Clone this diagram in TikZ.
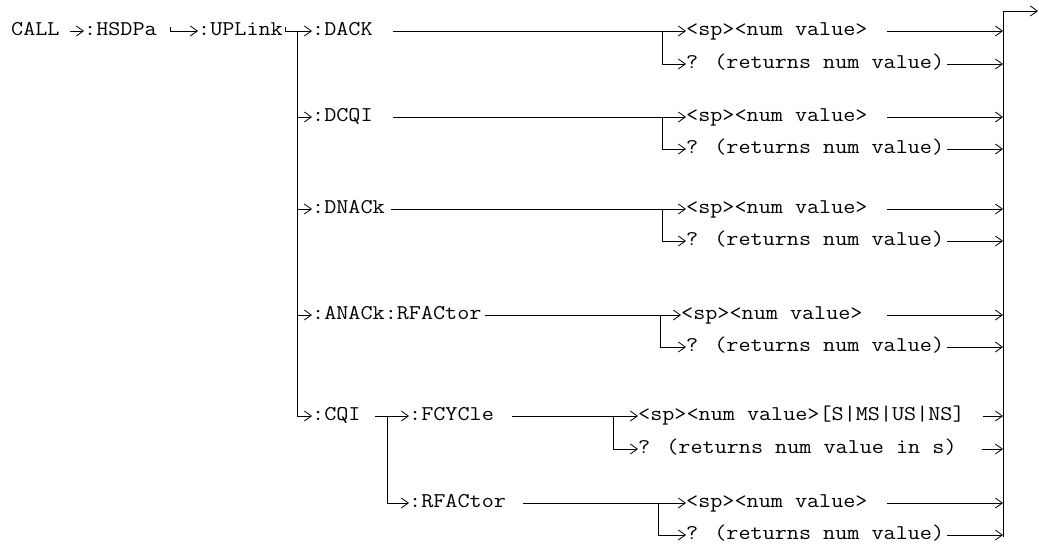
\documentclass[tikz,border=0pt]{standalone}
\usepackage{graphicx}
\usetikzlibrary{arrows.meta}
\newcommand\wtxt[1]{\scalebox{1.118}[1]{#1}}
\begin{document}
\begin{tikzpicture}[x=1pt,y=-1pt,
  lbl/.style={anchor=west, inner sep=0pt, font=\ttfamily\fontsize{21}{24}\selectfont, text height=12pt, text depth=3pt},
  conn/.style={line width=0.8pt},
  arr/.style={conn, -{Straight Barb[length=7pt,width=10pt]}}
]
\useasboundingbox (0,0) rectangle (1039,550);
% command path
\node[lbl] (call) at (11,31) {\wtxt{CALL}};
\node[lbl] (hsdpa) at (84,31) {\wtxt{:HSDPa}};
\node[lbl] (uplink) at (198,31) {\wtxt{:UPLink}};
\node[lbl] (dack) at (312,31) {\wtxt{:DACK}};
\node[lbl] (dcqi) at (312,117) {\wtxt{:DCQI}};
\node[lbl] (dnack) at (312,209) {\wtxt{:DNACk}};
\node[lbl] (anack) at (312,315) {\wtxt{:ANACk:RFACtor}};
\node[lbl] (cqi) at (312,416) {\wtxt{:CQI}};
\node[lbl] (fcycle) at (409,416) {\wtxt{:FCYCle}};
\node[lbl] (rfactor) at (409,503) {\wtxt{:RFACtor}};
% values
\node[lbl] (v1) at (686,31) {\wtxt{<sp><num value>}};
\node[lbl] (q1) at (686,64) {\wtxt{? (returns num value)}};
\node[lbl] (v2) at (686,117) {\wtxt{<sp><num value>}};
\node[lbl] (q2) at (686,149) {\wtxt{? (returns num value)}};
\node[lbl] (v3) at (686,209) {\wtxt{<sp><num value>}};
\node[lbl] (q3) at (686,241) {\wtxt{? (returns num value)}};
\node[lbl] (v4) at (681,315) {\wtxt{<sp><num value>}};
\node[lbl] (q4) at (686,347) {\wtxt{? (returns num value)}};
\node[lbl] (v5) at (638,416) {\wtxt{<sp><num value>[S|MS|US|NS]}};
\node[lbl] (q5) at (638,449) {\wtxt{? (returns num value in s)}};
\node[lbl] (v6) at (686,503) {\wtxt{<sp><num value>}};
\node[lbl] (q6) at (686,535) {\wtxt{? (returns num value)}};
% coordinates
\coordinate (c0) at (70,31);
\coordinate (h0) at (170,27);
\coordinate (h1) at (285,27);
\coordinate (tr) at (297,31);
\coordinate (s1) at (393,31);
\coordinate (s2) at (393,117);
\coordinate (s3) at (391,209);
\coordinate (s4) at (485,315);
\coordinate (s5) at (375,416);
\coordinate (tr2) at (387,416);
\coordinate (s6) at (512,416);
\coordinate (s7) at (523,503);
\coordinate (j1) at (662,31);
\coordinate (j2) at (662,117);
\coordinate (j3) at (662,209);
\coordinate (j4) at (660,315);
\coordinate (j5) at (613,416);
\coordinate (j6) at (658,503);
\coordinate (bt) at (1003,11);
\coordinate (bb) at (1003,537);
\coordinate (out) at (1038,11);
% left connectors
\draw[arr] (c0) -- (hsdpa.west);
\draw[arr] (h0) |- (uplink.west);
\draw[arr] (h1) |- (dack.west);
\draw[arr] (tr) |- (cqi.west);
\draw[arr] (tr |- dcqi.west) -- (dcqi.west);
\draw[arr] (tr |- dnack.west) -- (dnack.west);
\draw[arr] (tr |- anack.west) -- (anack.west);
\draw[arr] (s5) -- (fcycle.west);
\draw[arr] (tr2) |- (rfactor.west);
% middle connectors
\draw[arr] (s1) -- (v1.west);
\draw[arr] (j1) |- (q1.west);
\draw[arr] (s2) -- (v2.west);
\draw[arr] (j2) |- (q2.west);
\draw[arr] (s3) -- (v3.west);
\draw[arr] (j3) |- (q3.west);
\draw[arr] (s4) -- (v4.west);
\draw[arr] (j4) |- (q4.west);
\draw[arr] (s6) -- (v5.west);
\draw[arr] (j5) |- (q5.west);
\draw[arr] (s7) -- (v6.west);
\draw[arr] (j6) |- (q6.west);
% right bar
\draw[conn] (bb) -- (bt);
\draw[arr] (bt) -- (out);
\draw[arr] (887,31) -- (v1 -| bt);
\draw[arr] (947,64) -- (q1 -| bt);
\draw[arr] (887,117) -- (v2 -| bt);
\draw[arr] (947,149) -- (q2 -| bt);
\draw[arr] (887,209) -- (v3 -| bt);
\draw[arr] (947,241) -- (q3 -| bt);
\draw[arr] (887,315) -- (v4 -| bt);
\draw[arr] (947,347) -- (q4 -| bt);
\draw[arr] (983,416) -- (v5 -| bt);
\draw[arr] (982,449) -- (q5 -| bt);
\draw[arr] (887,503) -- (v6 -| bt);
\draw[arr] (947,535) -- (q6 -| bt);
\end{tikzpicture}
\end{document}
